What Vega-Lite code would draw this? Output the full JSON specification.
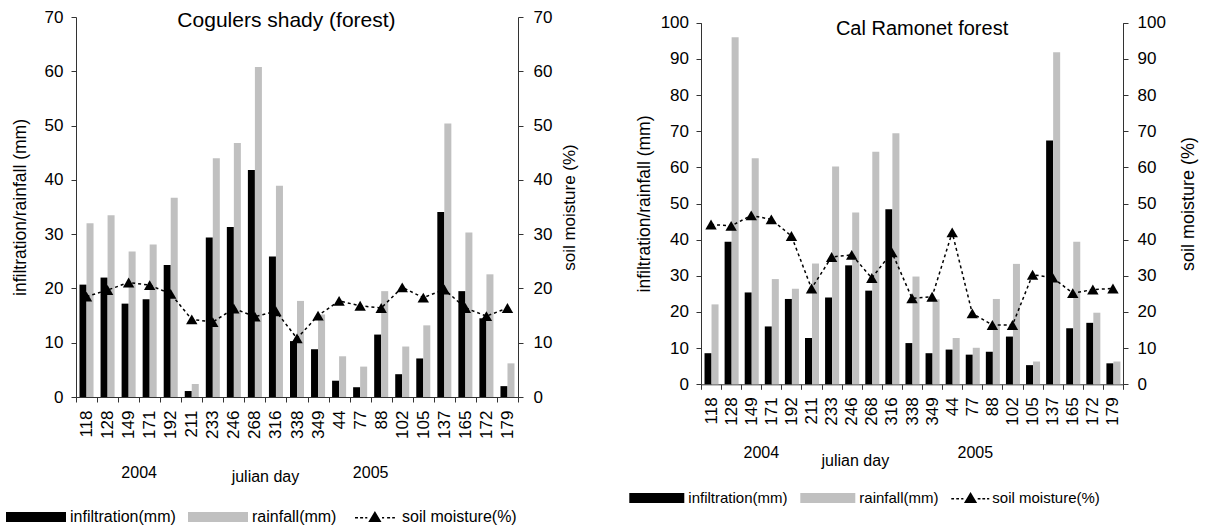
{
  "$schema": "https://vega.github.io/schema/vega-lite/v6.json",
  "padding": {"left": 5, "top": 8, "right": 5, "bottom": 0},
  "autosize": {"type": "pad"},
  "bounds": "flush",
  "spacing": 183,
  "config": {
    "font": "Liberation Sans",
    "view": {"stroke": null},
    "axis": {"grid": false, "domainColor": "#333", "tickColor": "#333", "labelColor": "#000", "titleColor": "#000", "titleFontWeight": "normal", "labelFont": "Liberation Sans", "titleFont": "Liberation Sans", "labelOverlap": false},
    "legend": {"labelFont": "Liberation Sans", "labelColor": "#000", "padding": 0, "gridAlign": "none"},
    "text": {"font": "Liberation Sans", "color": "#000"}
  },
  "datasets": {
    "cogulers": [
      {"day": "118", "infiltration": 20.7, "rainfall": 32.0, "moisture": 18.5},
      {"day": "128", "infiltration": 22.0, "rainfall": 33.5, "moisture": 19.7},
      {"day": "149", "infiltration": 17.2, "rainfall": 26.8, "moisture": 21.1},
      {"day": "171", "infiltration": 18.0, "rainfall": 28.1, "moisture": 20.6},
      {"day": "192", "infiltration": 24.3, "rainfall": 36.7, "moisture": 19.0},
      {"day": "211", "infiltration": 1.1, "rainfall": 2.4, "moisture": 14.3},
      {"day": "233", "infiltration": 29.4, "rainfall": 44.0, "moisture": 13.8},
      {"day": "246", "infiltration": 31.3, "rainfall": 46.8, "moisture": 16.3},
      {"day": "268", "infiltration": 41.8, "rainfall": 60.8, "moisture": 14.8},
      {"day": "316", "infiltration": 25.9, "rainfall": 38.9, "moisture": 15.8},
      {"day": "338", "infiltration": 10.3, "rainfall": 17.7, "moisture": 10.8},
      {"day": "349", "infiltration": 8.8, "rainfall": 15.2, "moisture": 15.0},
      {"day": "44", "infiltration": 3.0, "rainfall": 7.5, "moisture": 17.7},
      {"day": "77", "infiltration": 1.8, "rainfall": 5.6, "moisture": 16.8},
      {"day": "88", "infiltration": 11.5, "rainfall": 19.5, "moisture": 16.4},
      {"day": "102", "infiltration": 4.2, "rainfall": 9.3, "moisture": 20.2},
      {"day": "105", "infiltration": 7.1, "rainfall": 13.2, "moisture": 18.3},
      {"day": "137", "infiltration": 34.1, "rainfall": 50.4, "moisture": 19.8},
      {"day": "165", "infiltration": 19.5, "rainfall": 30.3, "moisture": 16.4},
      {"day": "172", "infiltration": 14.5, "rainfall": 22.6, "moisture": 14.9},
      {"day": "179", "infiltration": 2.0, "rainfall": 6.2, "moisture": 16.4}
    ],
    "calramonet": [
      {"day": "118", "infiltration": 8.6, "rainfall": 22.1, "moisture": 44.2},
      {"day": "128", "infiltration": 39.4, "rainfall": 96.0, "moisture": 43.8},
      {"day": "149", "infiltration": 25.4, "rainfall": 62.5, "moisture": 46.7},
      {"day": "171", "infiltration": 16.0, "rainfall": 29.1, "moisture": 45.6},
      {"day": "192", "infiltration": 23.6, "rainfall": 26.4, "moisture": 41.0},
      {"day": "211", "infiltration": 12.8, "rainfall": 33.4, "moisture": 26.5},
      {"day": "233", "infiltration": 24.0, "rainfall": 60.2, "moisture": 35.2},
      {"day": "246", "infiltration": 32.9, "rainfall": 47.5, "moisture": 35.8},
      {"day": "268", "infiltration": 25.9, "rainfall": 64.3, "moisture": 29.4},
      {"day": "316", "infiltration": 48.4, "rainfall": 69.4, "moisture": 36.5},
      {"day": "338", "infiltration": 11.4, "rainfall": 29.8, "moisture": 23.8},
      {"day": "349", "infiltration": 8.6, "rainfall": 23.5, "moisture": 24.2},
      {"day": "44", "infiltration": 9.6, "rainfall": 12.8, "moisture": 42.0},
      {"day": "77", "infiltration": 8.2, "rainfall": 10.1, "moisture": 19.6},
      {"day": "88", "infiltration": 9.0, "rainfall": 23.6, "moisture": 16.4},
      {"day": "102", "infiltration": 13.2, "rainfall": 33.3, "moisture": 16.4},
      {"day": "105", "infiltration": 5.3, "rainfall": 6.3, "moisture": 30.3},
      {"day": "137", "infiltration": 67.4, "rainfall": 91.8, "moisture": 29.5},
      {"day": "165", "infiltration": 15.5, "rainfall": 39.4, "moisture": 25.2},
      {"day": "172", "infiltration": 17.0, "rainfall": 19.8, "moisture": 26.2},
      {"day": "179", "infiltration": 5.8, "rainfall": 6.3, "moisture": 26.5}
    ]
  },
  "resolve": {"scale": {"color": "independent"}},
  "hconcat": [
    {
      "width": 442,
      "height": 380,
      "data": {"name": "cogulers"},
      "resolve": {"scale": {"y": "independent"}},
      "layer": [
        {
          "layer": [
            {
              "transform": [{"fold": ["infiltration", "rainfall"], "as": ["series", "value"]}],
              "mark": {"type": "bar"},
              "encoding": {
                "x": {"field": "day", "type": "ordinal", "scale": {"domain": ["118","128","149","171","192","211","233","246","268","316","338","349","44","77","88","102","105","137","165","172","179"], "paddingInner": 0, "paddingOuter": 0},
                  "axis": {"title": null, "labelAngle": -90, "labelFontSize": 17, "tickSize": 5, "labelPadding": 8, "tickBand": "extent"}},
                "xOffset": {"field": "series", "scale": {"domain": ["infiltration", "rainfall"], "paddingInner": 0, "paddingOuter": 0.5}},
                "y": {"field": "value", "type": "quantitative", "scale": {"domain": [0, 70]},
                  "axis": {"title": "infiltration/rainfall (mm)", "values": [0,10,20,30,40,50,60,70], "labelOverlap": false, "labelFontSize": 17, "titleFontSize": 17.5, "tickSize": 5, "labelPadding": 8, "titlePadding": 15}},
                "color": {"field": "series", "type": "nominal",
                  "scale": {"domain": ["infiltration", "rainfall", "moisture"], "range": ["#000000", "#c0c0c0", "#000000"]},
                  "legend": {"orient": "none", "legendX": -71, "legendY": 469, "direction": "horizontal", "title": null, "symbolSize": 3600, "labelFontSize": 16, "labelOffset": 3, "columnPadding": 9, "gridAlign": "none",
                    "labelExpr": "datum.label == 'moisture' ? 'soil moisture(%)' : datum.label + '(mm)'",
                    "encode": {
                      "symbols": {"update": {"shape": {"signal": "datum.value == 'moisture' ? 'M-1,0L-0.999,0Z M-0.357,0.17L-0.137,-0.2L0.083,0.17Z M-0.8,0H-0.7V0.05H-0.8Z M-0.63,0H-0.53V0.05H-0.63Z M-0.46,0H-0.39V0.05H-0.46Z M0.1,0H0.17V0.05H0.1Z M0.27,0H0.37V0.05H0.27Z M0.44,0H0.53V0.05H0.44Z' : 'M-1,-0.17H1V0.17H-1Z'"}, "stroke": {"value": "transparent"}, "opacity": {"value": 1}}},
                      "labels": {"update": {"dx": {"signal": "datum.value == 'moisture' ? -11 : 0"}}}
                    }}}
              }
            },
            {
              "data": {"values": [{"label": "Cogulers shady (forest)", "day": "338"}]},
              "mark": {"type": "text", "fontSize": 21, "baseline": "alphabetic", "align": "center"},
              "encoding": {"x": {"field": "day", "type": "ordinal", "bandPosition": 0}, "y": {"datum": 68.2}, "text": {"field": "label"}}
            },
            {
              "data": {"values": [{"label": "2004", "day": "171"}, {"label": "2005", "day": "88"}]},
              "mark": {"type": "text", "fontSize": 16, "baseline": "alphabetic", "align": "center"},
              "encoding": {"x": {"field": "day", "type": "ordinal", "bandPosition": 0}, "y": {"datum": -15}, "text": {"field": "label"}}
            },
            {
              "data": {"values": [{"label": "julian day", "day": "316"}]},
              "mark": {"type": "text", "fontSize": 16, "baseline": "alphabetic", "align": "center"},
              "encoding": {"x": {"field": "day", "type": "ordinal", "bandPosition": 0}, "y": {"datum": -15.6}, "text": {"field": "label"}}
            }
          ]
        },
        {
          "encoding": {
            "x": {"field": "day", "type": "ordinal"},
            "y": {"field": "moisture", "type": "quantitative", "scale": {"domain": [0, 70]},
              "axis": {"orient": "right", "title": "soil moisture (%)", "values": [0,10,20,30,40,50,60,70], "labelOverlap": false, "labelFontSize": 17, "titleFontSize": 17, "titleAngle": 270, "titleBaseline": "top", "tickSize": 5, "labelPadding": 10, "titlePadding": 10}}
          },
          "layer": [
            {"mark": {"type": "line", "color": "#000000", "strokeWidth": 1.5, "strokeDash": [3, 3]}},
            {"mark": {"type": "point", "shape": "triangle-up", "filled": true, "size": 130, "opacity": 1},
             "encoding": {"color": {"datum": "moisture", "type": "nominal"}}}
          ]
        }
      ]
    },
    {
      "width": 422,
      "height": 367.3,
      "data": {"name": "calramonet"},
      "resolve": {"scale": {"y": "independent"}},
      "layer": [
        {
          "layer": [
            {
              "transform": [{"fold": ["infiltration", "rainfall"], "as": ["series", "value"]}],
              "mark": {"type": "bar"},
              "encoding": {
                "x": {"field": "day", "type": "ordinal", "scale": {"domain": ["118","128","149","171","192","211","233","246","268","316","338","349","44","77","88","102","105","137","165","172","179"], "paddingInner": 0, "paddingOuter": 0},
                  "axis": {"title": null, "labelAngle": -90, "labelFontSize": 17, "tickSize": 5, "labelPadding": 7.5, "tickBand": "extent"}},
                "xOffset": {"field": "series", "scale": {"domain": ["infiltration", "rainfall"], "paddingInner": 0, "paddingOuter": 0.5}},
                "y": {"field": "value", "type": "quantitative", "scale": {"domain": [0, 100], "range": [367.3, 5.7]},
                  "axis": {"title": "infiltration/rainfall (mm)", "values": [0,10,20,30,40,50,60,70,80,90,100], "tickCount": 11, "labelOverlap": false, "labelFontSize": 17, "titleFontSize": 17.5, "tickSize": 5, "labelPadding": 7.5, "titlePadding": 7}},
                "color": {"field": "series", "type": "nominal",
                  "scale": {"domain": ["infiltration", "rainfall", "moisture"], "range": ["#000000", "#c0c0c0", "#000000"]},
                  "legend": {"orient": "none", "legendX": -72.7, "legendY": 452.5, "direction": "horizontal", "title": null, "symbolSize": 3025, "labelFontSize": 15, "labelOffset": 3, "columnPadding": 9, "gridAlign": "none",
                    "labelExpr": "datum.label == 'moisture' ? 'soil moisture(%)' : datum.label + '(mm)'",
                    "encode": {
                      "symbols": {"update": {"shape": {"signal": "datum.value == 'moisture' ? 'M-1,0L-0.999,0Z M-0.54,0.18L-0.3,-0.22L-0.06,0.18Z M-1,0H-0.9V0.05H-1Z M-0.82,0H-0.72V0.05H-0.82Z M-0.64,0H-0.56V0.05H-0.64Z M-0.04,0H0.06V0.05H-0.04Z M0.13,0H0.23V0.05H0.13Z M0.3,0H0.38V0.05H0.3Z' : 'M-1,-0.18H1V0.18H-1Z'"}, "stroke": {"value": "transparent"}, "opacity": {"value": 1}}},
                      "labels": {"update": {"dx": {"signal": "datum.value == 'moisture' ? -18 : 0"}}}
                    }}}
              }
            },
            {
              "data": {"values": [{"label": "Cal Ramonet forest", "day": "349"}]},
              "mark": {"type": "text", "fontSize": 20, "baseline": "alphabetic", "align": "center"},
              "encoding": {"x": {"field": "day", "type": "ordinal", "bandPosition": 0}, "y": {"datum": 96.6}, "text": {"field": "label"}}
            },
            {
              "data": {"values": [{"label": "2004", "day": "171"}]},
              "mark": {"type": "text", "fontSize": 16, "baseline": "alphabetic", "align": "center"},
              "encoding": {"x": {"field": "day", "type": "ordinal", "bandPosition": 0}, "y": {"datum": -20.5}, "text": {"field": "label"}}
            },
            {
              "data": {"values": [{"label": "2005", "day": "77"}]},
              "mark": {"type": "text", "fontSize": 16, "baseline": "alphabetic", "align": "center"},
              "encoding": {"x": {"field": "day", "type": "ordinal", "bandPosition": 0.65}, "y": {"datum": -20.5}, "text": {"field": "label"}}
            },
            {
              "data": {"values": [{"label": "julian day", "day": "246"}]},
              "mark": {"type": "text", "fontSize": 16, "baseline": "alphabetic", "align": "center"},
              "encoding": {"x": {"field": "day", "type": "ordinal", "bandPosition": 0.68}, "y": {"datum": -22.6}, "text": {"field": "label"}}
            }
          ]
        },
        {
          "encoding": {
            "x": {"field": "day", "type": "ordinal"},
            "y": {"field": "moisture", "type": "quantitative", "scale": {"domain": [0, 100], "range": [367.3, 5.7]},
              "axis": {"orient": "right", "title": "soil moisture (%)", "values": [0,10,20,30,40,50,60,70,80,90,100], "labelOverlap": false, "labelFontSize": 17, "titleFontSize": 18, "titleAngle": 270, "titleBaseline": "top", "tickSize": 5, "labelPadding": 9, "titlePadding": 14}}
          },
          "layer": [
            {"mark": {"type": "line", "color": "#000000", "strokeWidth": 1.5, "strokeDash": [3, 3]}},
            {"mark": {"type": "point", "shape": "triangle-up", "filled": true, "size": 130, "opacity": 1},
             "encoding": {"color": {"datum": "moisture", "type": "nominal"}}}
          ]
        }
      ]
    }
  ]
}
